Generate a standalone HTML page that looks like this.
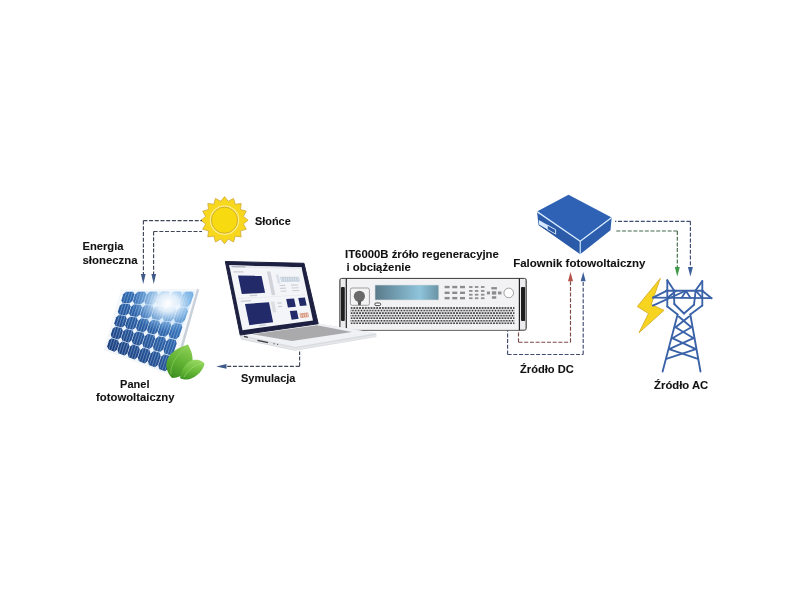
<!DOCTYPE html>
<html><head><meta charset="utf-8">
<style>
html,body{margin:0;padding:0;background:#fff;width:800px;height:600px;overflow:hidden}
svg{display:block;will-change:transform}
text{font-family:"Liberation Sans",sans-serif;font-weight:bold;fill:#111;stroke:#111;stroke-width:0.08}
</style></head><body>
<svg width="800" height="600" viewBox="0 0 800 600">
<defs>
<radialGradient id="glare" cx="0.5" cy="0.5" r="0.5">
 <stop offset="0" stop-color="#ffffff" stop-opacity="1"/>
 <stop offset="0.3" stop-color="#eef7ff" stop-opacity="0.9"/>
 <stop offset="0.65" stop-color="#b8dcfa" stop-opacity="0.45"/>
 <stop offset="1" stop-color="#9cc8f0" stop-opacity="0"/>
</radialGradient>
<linearGradient id="cellg" gradientUnits="userSpaceOnUse" x1="185" y1="290" x2="115" y2="360">
 <stop offset="0" stop-color="#5098d6"/>
 <stop offset="0.45" stop-color="#2f66ac"/>
 <stop offset="1" stop-color="#1a3a78"/>
</linearGradient>
<linearGradient id="disp" x1="0" y1="0" x2="1" y2="0">
 <stop offset="0" stop-color="#5a7a8a"/>
 <stop offset="0.7" stop-color="#8ec4dc"/>
 <stop offset="1" stop-color="#6a92a4"/>
</linearGradient>
<pattern id="grille" x="351.5" y="308" width="2.85" height="5.1" patternUnits="userSpaceOnUse">
 <circle cx="0" cy="0" r="0.95" fill="#111"/>
 <circle cx="2.85" cy="0" r="0.95" fill="#111"/>
 <circle cx="1.425" cy="2.55" r="0.95" fill="#1a1a1a"/>
 <circle cx="0" cy="5.1" r="0.95" fill="#111"/>
 <circle cx="2.85" cy="5.1" r="0.95" fill="#111"/>
</pattern>
<linearGradient id="leaf1" x1="0.7" y1="0" x2="0.3" y2="1">
 <stop offset="0" stop-color="#8ccf55"/>
 <stop offset="0.5" stop-color="#62b334"/>
 <stop offset="1" stop-color="#3e8f22"/>
</linearGradient>
<linearGradient id="leaf2" x1="0.6" y1="0" x2="0.4" y2="1">
 <stop offset="0" stop-color="#98d862"/>
 <stop offset="0.55" stop-color="#6abb3a"/>
 <stop offset="1" stop-color="#449a26"/>
</linearGradient>
</defs>

<polygon points="224.50,196.60 228.25,201.37 233.53,198.40 235.17,204.24 241.19,203.51 240.46,209.53 246.30,211.17 243.33,216.45 248.10,220.20 243.33,223.95 246.30,229.23 240.46,230.87 241.19,236.89 235.17,236.16 233.53,242.00 228.25,239.03 224.50,243.80 220.75,239.03 215.47,242.00 213.83,236.16 207.81,236.89 208.54,230.87 202.70,229.23 205.67,223.95 200.90,220.20 205.67,216.45 202.70,211.17 208.54,209.53 207.81,203.51 213.83,204.24 215.47,198.40 220.75,201.37" fill="#f8d81e" stroke="#cfa838" stroke-width="0.8" stroke-linejoin="miter"/>
<circle cx="224.5" cy="220.2" r="14.7" fill="#fdf08a"/>
<circle cx="224.5" cy="220.2" r="13.1" fill="#f8da10" stroke="#cda62c" stroke-width="0.9"/>
<polygon points="121.50,290.00 198.80,289.40 172.50,375.50 104.20,349.80" fill="#f7fafd" stroke="#e6ebf1" stroke-width="0.5"/>
<polygon points="196.80,289.60 199.20,289.50 175.00,376.00 172.50,375.00" fill="#c9d0d9"/>
<polygon points="123.80,291.60 195.00,291.30 167.00,372.50 106.20,348.80" fill="#eef5fc"/>
<polygon points="126.15,291.87 133.14,291.85 134.49,294.39 132.42,300.94 129.53,303.35 122.73,302.92 121.38,300.40 123.27,294.26" fill="url(#cellg)"/>
<polygon points="122.55,303.47 129.35,303.93 130.63,306.61 128.56,313.16 125.74,315.42 119.14,314.52 117.85,311.86 119.74,305.72" fill="url(#cellg)"/>
<polygon points="118.96,315.08 125.55,316.00 126.77,318.83 124.70,325.38 121.94,327.50 115.54,326.12 114.32,323.32 116.21,317.18" fill="url(#cellg)"/>
<polygon points="115.37,326.68 121.76,328.08 122.91,331.05 120.84,337.60 118.14,339.57 111.95,337.73 110.79,334.78 112.68,328.64" fill="url(#cellg)"/>
<polygon points="111.78,338.28 117.96,340.15 119.05,343.27 116.99,349.82 114.35,351.65 108.36,349.33 107.26,346.24 109.15,340.09" fill="url(#cellg)"/>
<polygon points="138.00,291.84 145.00,291.82 146.27,294.52 144.02,301.50 141.06,304.08 134.25,303.65 132.98,300.96 135.05,294.39" fill="url(#cellg)"/>
<polygon points="134.07,304.24 140.86,304.70 142.07,307.54 139.81,314.52 136.92,316.95 130.32,316.05 129.10,313.22 131.18,306.65" fill="url(#cellg)"/>
<polygon points="130.13,316.65 136.72,317.57 137.86,320.56 135.61,327.54 132.77,329.83 126.38,328.45 125.23,325.48 127.30,318.91" fill="url(#cellg)"/>
<polygon points="126.19,329.05 132.58,330.45 133.66,333.58 131.40,340.56 128.63,342.71 122.44,340.86 121.35,337.74 123.43,331.17" fill="url(#cellg)"/>
<polygon points="122.25,341.45 128.43,343.32 129.45,346.61 127.20,353.58 124.49,355.58 118.50,353.26 117.48,350.00 119.55,343.43" fill="url(#cellg)"/>
<polygon points="149.86,291.81 156.86,291.79 158.06,294.66 155.62,302.07 152.59,304.81 145.78,304.38 144.58,301.53 146.84,294.53" fill="url(#cellg)"/>
<polygon points="145.58,305.01 152.37,305.46 153.51,308.48 151.07,315.89 148.10,318.48 141.50,317.58 140.35,314.59 142.62,307.59" fill="url(#cellg)"/>
<polygon points="141.29,318.21 147.88,319.14 148.96,322.30 146.52,329.71 143.61,332.16 137.21,330.78 136.13,327.65 138.40,320.65" fill="url(#cellg)"/>
<polygon points="137.01,331.42 143.39,332.82 144.40,336.12 141.96,343.53 139.12,345.84 132.93,343.99 131.91,340.71 134.17,333.71" fill="url(#cellg)"/>
<polygon points="132.72,344.62 138.91,346.49 139.85,349.94 137.41,357.35 134.63,359.51 128.65,357.19 127.69,353.76 129.95,346.77" fill="url(#cellg)"/>
<polygon points="161.72,291.78 168.72,291.76 169.85,294.79 167.22,302.63 164.12,305.54 157.31,305.11 156.18,302.09 158.62,294.66" fill="url(#cellg)"/>
<polygon points="157.09,305.78 163.88,306.23 164.95,309.41 162.32,317.25 159.28,320.02 152.68,319.11 151.61,315.95 154.06,308.52" fill="url(#cellg)"/>
<polygon points="152.46,319.78 159.05,320.71 160.05,324.04 157.42,331.87 154.44,334.49 148.05,333.12 147.04,329.81 149.49,322.38" fill="url(#cellg)"/>
<polygon points="147.83,333.79 154.21,335.19 155.15,338.66 152.52,346.49 149.61,348.97 143.42,347.12 142.47,343.67 144.92,336.24" fill="url(#cellg)"/>
<polygon points="143.20,347.79 149.38,349.66 150.25,353.28 147.63,361.11 144.77,363.44 138.79,361.12 137.90,357.53 140.35,350.10" fill="url(#cellg)"/>
<polygon points="173.58,291.75 180.58,291.73 181.63,294.93 178.82,303.19 175.64,306.27 168.84,305.84 167.78,302.66 170.41,294.80" fill="url(#cellg)"/>
<polygon points="168.60,306.55 175.40,307.00 176.39,310.35 173.58,318.61 170.46,321.55 163.86,320.64 162.86,317.32 165.50,309.46" fill="url(#cellg)"/>
<polygon points="163.62,321.35 170.21,322.28 171.14,325.77 168.33,334.04 165.28,336.82 158.88,335.45 157.95,331.98 160.58,324.12" fill="url(#cellg)"/>
<polygon points="158.65,336.16 165.03,337.56 165.90,341.19 163.09,349.46 160.10,352.10 153.91,350.25 153.03,346.63 155.67,338.78" fill="url(#cellg)"/>
<polygon points="153.67,350.96 159.85,352.83 160.65,356.61 157.84,364.88 154.91,367.37 148.93,365.05 148.12,361.29 150.75,353.44" fill="url(#cellg)"/>
<polygon points="185.44,291.71 192.44,291.70 193.42,295.06 190.42,303.76 187.17,307.00 180.37,306.57 179.38,303.22 182.20,294.94" fill="url(#cellg)"/>
<polygon points="180.11,307.32 186.91,307.77 187.83,311.29 184.83,319.98 181.64,323.08 175.04,322.17 174.12,318.68 176.94,310.39" fill="url(#cellg)"/>
<polygon points="174.79,322.92 181.38,323.85 182.23,327.51 179.24,336.20 176.11,339.15 169.72,337.78 168.85,334.14 171.67,325.85" fill="url(#cellg)"/>
<polygon points="169.46,338.53 175.85,339.92 176.64,343.73 173.65,352.42 170.59,355.23 164.39,353.38 163.59,349.60 166.41,341.31" fill="url(#cellg)"/>
<polygon points="164.14,354.13 170.32,356.00 171.05,359.95 168.05,368.64 165.06,371.30 159.07,368.98 158.33,365.06 161.15,356.77" fill="url(#cellg)"/>
<clipPath id="cellclip"><polygon points="123.80,291.60 195.00,291.30 167.00,372.50 106.20,348.80"/></clipPath>
<g clip-path="url(#cellclip)" stroke="#b4d4f4" stroke-width="0.55" opacity="0.75">
<line x1="126.59" y1="292.17" x2="108.91" y2="349.21"/>
<line x1="129.55" y1="292.17" x2="111.45" y2="350.18"/>
<line x1="132.51" y1="292.16" x2="113.99" y2="351.16"/>
<line x1="138.44" y1="292.16" x2="119.06" y2="353.12"/>
<line x1="141.40" y1="292.16" x2="121.60" y2="354.09"/>
<line x1="144.36" y1="292.15" x2="124.14" y2="355.07"/>
<line x1="150.28" y1="292.15" x2="129.22" y2="357.03"/>
<line x1="153.25" y1="292.15" x2="131.75" y2="358.00"/>
<line x1="156.21" y1="292.14" x2="134.29" y2="358.98"/>
<line x1="162.13" y1="292.14" x2="139.37" y2="360.94"/>
<line x1="165.10" y1="292.14" x2="141.90" y2="361.91"/>
<line x1="168.06" y1="292.13" x2="144.44" y2="362.89"/>
<line x1="173.98" y1="292.13" x2="149.52" y2="364.85"/>
<line x1="176.95" y1="292.13" x2="152.05" y2="365.82"/>
<line x1="179.91" y1="292.12" x2="154.59" y2="366.80"/>
<line x1="185.83" y1="292.12" x2="159.67" y2="368.76"/>
<line x1="188.80" y1="292.12" x2="162.20" y2="369.73"/>
<line x1="191.76" y1="292.11" x2="164.74" y2="370.71"/>
</g>
<ellipse cx="168" cy="303" rx="36" ry="29" fill="url(#glare)" clip-path="url(#cellclip)"/>
<path d="M172 378 C166 372 164 362 170 355 C175 349 183 346 188 344.5 C191 350 194 357 192 365 C190 372 180 378 172 378 Z" fill="url(#leaf1)"/>
<path d="M171 374 C170 366 175 356 187 347" fill="none" stroke="#9bd86a" stroke-width="0.8" opacity="0.7"/>
<path d="M180 378 C181 370 186 362 193 360 C198 359 203 361 204.5 364 C203 370 198 376 190 379 C186 380 182 379.5 180 378 Z" fill="url(#leaf2)"/>
<path d="M184 377 C188 370 194 365 203 363" fill="none" stroke="#a8e07a" stroke-width="0.8" opacity="0.7"/>
<rect x="339.8" y="278.4" width="186.5" height="51.8" rx="1.8" fill="#ececef" stroke="#3a3a3a" stroke-width="1"/>
<rect x="346.3" y="279" width="173.1" height="50.7" fill="#f2f2f4"/>
<line x1="346.3" y1="278.4" x2="346.3" y2="330.2" stroke="#222" stroke-width="1.2"/>
<line x1="519.4" y1="278.4" x2="519.4" y2="330.2" stroke="#222" stroke-width="1.2"/>
<rect x="341" y="287" width="3.8" height="34" rx="1" fill="#1e1e1e"/>
<rect x="521" y="287" width="4.2" height="34" rx="1" fill="#1e1e1e"/>
<line x1="340.3" y1="280" x2="340.3" y2="329" stroke="#8a8a8a" stroke-width="0.8"/>
<line x1="525.8" y1="280" x2="525.8" y2="329" stroke="#8a8a8a" stroke-width="0.8"/>
<rect x="350.4" y="288" width="19" height="17.3" rx="1.8" fill="#f4f4f4" stroke="#8c8c8c" stroke-width="0.8"/>
<circle cx="359.4" cy="296.3" r="5.6" fill="#6a6a6a"/>
<path d="M357.6 300.5 L361.2 300.5 L360.8 305.2 L358.2 305.2 Z" fill="#5a5a5a"/>
<rect x="375" y="285" width="63.8" height="15" fill="url(#disp)" stroke="#d8dde2" stroke-width="0.6"/>
<rect x="374.8" y="303" width="5.9" height="2.6" rx="1.3" fill="#fff" stroke="#333" stroke-width="0.9"/>
<rect x="350.5" y="307" width="164" height="17.2" fill="url(#grille)"/>
<rect x="444.60" y="285.85" width="5" height="2.4" fill="#8c8c8c"/>
<rect x="444.60" y="291.60" width="5" height="2.4" fill="#8c8c8c"/>
<rect x="444.60" y="296.95" width="5" height="2.4" fill="#8c8c8c"/>
<rect x="452.25" y="285.85" width="5" height="2.4" fill="#8c8c8c"/>
<rect x="452.25" y="291.60" width="5" height="2.4" fill="#8c8c8c"/>
<rect x="452.25" y="296.95" width="5" height="2.4" fill="#8c8c8c"/>
<rect x="460.00" y="285.85" width="5" height="2.4" fill="#8c8c8c"/>
<rect x="460.00" y="291.60" width="5" height="2.4" fill="#8c8c8c"/>
<rect x="460.00" y="296.95" width="5" height="2.4" fill="#8c8c8c"/>
<rect x="469.05" y="286.10" width="3.5" height="1.8" fill="#8c8c8c"/>
<rect x="469.05" y="290.05" width="3.5" height="1.8" fill="#8c8c8c"/>
<rect x="469.05" y="293.80" width="3.5" height="1.8" fill="#8c8c8c"/>
<rect x="469.05" y="297.35" width="3.5" height="1.8" fill="#8c8c8c"/>
<rect x="474.85" y="286.10" width="3.5" height="1.8" fill="#8c8c8c"/>
<rect x="474.85" y="290.05" width="3.5" height="1.8" fill="#8c8c8c"/>
<rect x="474.85" y="293.80" width="3.5" height="1.8" fill="#8c8c8c"/>
<rect x="474.85" y="297.35" width="3.5" height="1.8" fill="#8c8c8c"/>
<rect x="480.95" y="286.10" width="3.5" height="1.8" fill="#8c8c8c"/>
<rect x="480.95" y="290.05" width="3.5" height="1.8" fill="#8c8c8c"/>
<rect x="480.95" y="293.80" width="3.5" height="1.8" fill="#8c8c8c"/>
<rect x="480.95" y="297.35" width="3.5" height="1.8" fill="#8c8c8c"/>
<rect x="491.30" y="287.10" width="5.60" height="2.30" fill="#8c8c8c"/>
<rect x="486.90" y="291.50" width="3.10" height="2.90" fill="#8c8c8c"/>
<rect x="491.90" y="291.25" width="4.35" height="3.35" fill="#8c8c8c"/>
<rect x="498.00" y="291.50" width="3.50" height="2.90" fill="#8c8c8c"/>
<rect x="491.90" y="296.25" width="4.35" height="2.50" fill="#8c8c8c"/>
<circle cx="508.75" cy="292.9" r="4.8" fill="#fff" stroke="#8a8a8a" stroke-width="0.8"/>
<polygon points="239.50,334.50 318.00,323.50 376.30,333.30 376.30,337.00 295.00,350.80 241.00,339.50" fill="#d9dade"/>
<polygon points="239.50,334.50 318.00,323.50 376.30,333.30 295.00,347.00" fill="#f0f1f4"/>
<polygon points="241.00,336.50 295.00,348.20 376.30,334.80 376.30,336.50 295.00,350.00 241.00,338.50" fill="#e6e7ea"/>
<polygon points="252.50,334.20 317.00,325.20 352.00,332.10 292.00,341.00" fill="#aaaaac"/>
<line x1="244" y1="336.4" x2="247.8" y2="337.4" stroke="#3a3a3a" stroke-width="1.4"/>
<line x1="257.5" y1="340.3" x2="268" y2="342.6" stroke="#3a3a3a" stroke-width="1.3"/>
<line x1="273.5" y1="343.6" x2="274.6" y2="343.8" stroke="#666" stroke-width="1.2"/>
<line x1="277" y1="344.3" x2="278.1" y2="344.5" stroke="#666" stroke-width="1.2"/>
<polygon points="225.30,261.50 304.00,263.30 318.20,323.70 240.20,335.00" fill="#1d2040" stroke="#1d2040" stroke-width="1" stroke-linejoin="round"/>
<polygon points="229.20,265.30 301.50,267.20 313.00,320.50 242.50,330.20" fill="#f4f5f8"/>
<polygon points="229.20,265.30 301.50,267.20 301.90,269.07 229.67,267.57" fill="#e6e8ee" />
<polygon points="231.50,266.00 245.24,266.34 245.49,267.59 231.77,267.29" fill="#b0b4c0" />
<polygon points="238.01,275.62 261.49,275.64 265.09,292.87 241.78,293.94" fill="#222a6a" />
<polygon points="245.00,303.94 268.99,302.22 273.17,322.17 249.37,325.20" fill="#222a6a" />
<polygon points="286.16,298.97 294.07,298.45 295.83,306.67 287.95,307.39" fill="#222a6a" />
<polygon points="298.23,297.95 304.93,297.51 306.65,305.48 299.97,306.08" fill="#222a6a" />
<polygon points="289.82,311.09 296.83,310.38 298.62,318.76 291.63,319.65" fill="#222a6a" />
<polygon points="299.54,313.54 308.03,312.59 308.96,316.90 300.48,317.96" fill="#f3e6df" />
<polygon points="299.95,313.78 301.51,313.60 302.33,317.45 300.78,317.64" fill="none" stroke="#c8684a" stroke-width="0.5"/>
<polygon points="302.00,313.55 303.56,313.37 304.38,317.19 302.83,317.39" fill="none" stroke="#c8684a" stroke-width="0.5"/>
<polygon points="304.06,313.32 305.61,313.14 306.43,316.94 304.87,317.13" fill="none" stroke="#c8684a" stroke-width="0.5"/>
<polygon points="306.11,313.09 307.67,312.91 308.48,316.68 306.92,316.88" fill="none" stroke="#c8684a" stroke-width="0.5"/>
<polygon points="266.83,271.57 270.43,271.62 275.35,295.00 271.78,295.19" fill="#d0d3da" />
<polygon points="270.65,301.86 274.21,301.61 276.44,312.21 272.90,312.56" fill="#dcdee4" />
<polygon points="275.73,274.56 278.61,274.57 280.55,283.73 277.68,283.79" fill="#dde2ea" />
<polygon points="280.18,276.86 299.25,276.81 300.30,281.66 281.27,281.99" fill="#e4eaf0" />
<polygon points="280.66,277.42 282.39,277.42 283.23,281.39 281.50,281.42" fill="none" stroke="#a8b8cc" stroke-width="0.45"/>
<polygon points="282.96,277.41 284.69,277.41 285.53,281.35 283.80,281.38" fill="none" stroke="#a8b8cc" stroke-width="0.45"/>
<polygon points="285.26,277.40 286.99,277.40 287.82,281.32 286.10,281.34" fill="none" stroke="#a8b8cc" stroke-width="0.45"/>
<polygon points="287.57,277.40 289.29,277.39 290.12,281.28 288.40,281.31" fill="none" stroke="#a8b8cc" stroke-width="0.45"/>
<polygon points="289.87,277.39 291.60,277.38 292.42,281.25 290.70,281.27" fill="none" stroke="#a8b8cc" stroke-width="0.45"/>
<polygon points="292.17,277.38 293.90,277.37 294.72,281.21 293.00,281.24" fill="none" stroke="#a8b8cc" stroke-width="0.45"/>
<polygon points="294.47,277.37 296.20,277.36 297.02,281.17 295.30,281.20" fill="none" stroke="#a8b8cc" stroke-width="0.45"/>
<polygon points="296.78,277.36 298.50,277.35 299.32,281.14 297.59,281.17" fill="none" stroke="#a8b8cc" stroke-width="0.45"/>
<polygon points="279.36,284.91 285.10,284.76 285.34,285.89 279.60,286.06" fill="#c8ccd4" />
<polygon points="279.97,287.78 285.70,287.59 285.94,288.72 280.21,288.93" fill="#c8ccd4" />
<polygon points="280.57,290.66 286.30,290.42 286.54,291.55 280.82,291.81" fill="#c8ccd4" />
<polygon points="290.84,284.62 298.01,284.44 298.24,285.53 291.07,285.73" fill="#c8ccd4" />
<polygon points="291.43,287.40 298.59,287.16 298.83,288.25 291.67,288.51" fill="#c8ccd4" />
<polygon points="292.02,290.18 299.18,289.88 299.41,290.97 292.26,291.29" fill="#c8ccd4" />
<polygon points="237.41,298.32 305.94,294.46 306.05,295.00 237.54,298.97" fill="#e2e4ea" />
<polygon points="233.28,271.18 243.38,271.30 243.64,272.55 233.55,272.46" fill="#c8ccd4" />
<polygon points="240.79,300.73 250.78,300.10 251.04,301.35 241.06,302.01" fill="#c8ccd4" />
<polygon points="249.74,295.09 256.89,294.74 257.14,295.97 250.00,296.34" fill="#c8ccd4" />
<polygon points="258.84,325.08 265.90,324.16 266.15,325.38 259.10,326.32" fill="#c8ccd4" />
<polygon points="277.31,302.57 281.58,302.26 281.82,303.41 277.55,303.74" fill="#c8ccd4" />
<polygon points="278.05,306.08 282.31,305.72 282.55,306.87 278.29,307.25" fill="#c8ccd4" />
<polygon points="568.50,194.70 611.70,217.40 580.20,241.30 537.00,211.60" fill="#2f62b4"/>
<polygon points="537.00,211.60 580.20,241.30 580.20,254.20 538.50,225.00" fill="#2b5aa8"/>
<polygon points="580.20,241.30 611.70,217.40 610.50,230.30 580.20,254.20" fill="#2d5eae"/>
<polyline points="537.00,211.60 580.20,241.30 611.70,217.40" fill="none" stroke="#d8ecff" stroke-width="1.3"/>
<line x1="580.2" y1="241.3" x2="580.2" y2="254.2" stroke="#d8ecff" stroke-width="1.1"/>
<polygon points="538.90,220.00 547.20,224.70 547.20,229.30 538.90,224.40" fill="#d6e8ff"/>
<polygon points="547.20,225.00 555.60,229.70 555.60,234.20 547.20,229.30" fill="none" stroke="#e8f4ff" stroke-width="0.9"/>
<line x1="539" y1="225.3" x2="555.8" y2="235.2" stroke="#1d3f78" stroke-width="0.7" opacity="0.6"/>
<polygon points="660.30,278.30 651.20,304.40 664.00,310.30 639.00,332.70 648.50,313.50 637.30,306.50" fill="#f6d420" stroke="#d6ae2c" stroke-width="0.9" stroke-linejoin="miter"/>
<g stroke="#3a62a8" stroke-width="1.85" stroke-linecap="round" fill="none">
<line x1="667.3" y1="280.2" x2="667.3" y2="306.5"/>
<line x1="667.3" y1="280.2" x2="673.9" y2="290.3"/>
<line x1="702.3" y1="281.1" x2="702.3" y2="305.6"/>
<line x1="702.3" y1="281.1" x2="695.7" y2="290.3"/>
<line x1="666.0" y1="290.7" x2="702.8" y2="290.7"/>
<line x1="652.9" y1="297.7" x2="711.5" y2="298.2"/>
<line x1="652.9" y1="297.7" x2="667.0" y2="290.7"/>
<line x1="711.5" y1="298.2" x2="702.3" y2="290.7"/>
<line x1="652.9" y1="305.6" x2="685.2" y2="291.0"/>
<line x1="667.3" y1="298.0" x2="676.0" y2="290.7"/>
<line x1="681.7" y1="297.8" x2="686.0" y2="291.0"/>
<line x1="686.0" y1="291.0" x2="690.5" y2="297.9"/>
<line x1="695.7" y1="290.7" x2="702.3" y2="298.0"/>
<line x1="673.9" y1="290.3" x2="674.3" y2="304.0"/>
<line x1="695.7" y1="290.3" x2="694.0" y2="304.7"/>
<line x1="674.3" y1="304.0" x2="684.0" y2="313.5"/>
<line x1="684.0" y1="313.5" x2="694.0" y2="304.7"/>
<line x1="667.3" y1="306.5" x2="677.6" y2="314.5"/>
<line x1="702.3" y1="305.6" x2="690.3" y2="314.5"/>
<line x1="677.6" y1="314.5" x2="662.6" y2="371.5"/>
<line x1="690.3" y1="314.5" x2="700.5" y2="371.5"/>
<line x1="678.7" y1="316.5" x2="691.3" y2="327.2"/>
<line x1="689.1" y1="316.5" x2="675.6" y2="327.2"/>
<line x1="675.6" y1="327.2" x2="693.6" y2="338.2"/>
<line x1="691.3" y1="327.2" x2="672.3" y2="338.2"/>
<line x1="672.3" y1="338.2" x2="695.9" y2="349.2"/>
<line x1="693.6" y1="338.2" x2="669.1" y2="349.2"/>
<line x1="669.1" y1="349.2" x2="697.9" y2="358.8"/>
<line x1="695.9" y1="349.2" x2="666.3" y2="358.8"/>
</g>
<g fill="none" stroke="#404558" stroke-width="1.15" stroke-dasharray="4 1.7">
<path d="M143.4 220.6 H202 M143.4 220.6 V274"/>
<path d="M153.6 231.5 H202 M153.6 231.5 V274"/>
<path d="M299.6 366.3 V351.5 M299.6 366.3 H226.5"/>
<path d="M518.5 342.2 V330.6 M518.5 342.2 H570.5 M570.5 342.2 V281" stroke="#7c4a48"/>
<path d="M507.6 354.5 V330.6 M507.6 354.5 H583.2 M583.2 354.5 V281" stroke="#404c70"/>
<path d="M690.4 221.3 H615 M690.4 221.3 V267" stroke="#404c70"/>
<path d="M677.3 231 H615 M677.3 231 V267" stroke="#406a4a"/>
</g>
<g stroke="none">
<path d="M140.9 274 L145.6 274 L143.25 284 Z" fill="#3f5a8a"/>
<path d="M151.4 274 L156.1 274 L153.75 284 Z" fill="#3f5a8a"/>
<path d="M226.5 364 L226.5 368.8 L216.2 366.4 Z" fill="#3f5a8a"/>
<path d="M568 281.3 L573 281.3 L570.5 272 Z" fill="#b5524a"/>
<path d="M580.7 281.3 L585.7 281.3 L583.2 272 Z" fill="#3d5f9a"/>
<path d="M674.8 267 L679.8 267 L677.3 276.5 Z" fill="#3f9a4a"/>
<path d="M687.9 267 L692.9 267 L690.4 276.5 Z" fill="#3d5f9a"/>
</g>
<text x="82.5" y="250" font-size="11.2">Energia</text>
<text x="82.5" y="263.7" font-size="11.4">słoneczna</text>
<text x="255" y="224.7" font-size="10.9">Słońce</text>
<text x="134.8" y="387.5" font-size="11" text-anchor="middle">Panel</text>
<text x="135.3" y="400.5" font-size="11.3" text-anchor="middle">fotowoltaiczny</text>
<text x="241" y="381.6" font-size="11">Symulacja</text>
<text x="345" y="258.2" font-size="11.35">IT6000B źróło regeneracyjne</text>
<text x="346.5" y="270.5" font-size="11.35">i obciążenie</text>
<text x="513.2" y="266.9" font-size="11.5">Falownik fotowoltaiczny</text>
<text x="520.1" y="372.5" font-size="11.1">Źródło DC</text>
<text x="654.1" y="388.8" font-size="11.3">Źródło AC</text>
</svg>
</body></html>
